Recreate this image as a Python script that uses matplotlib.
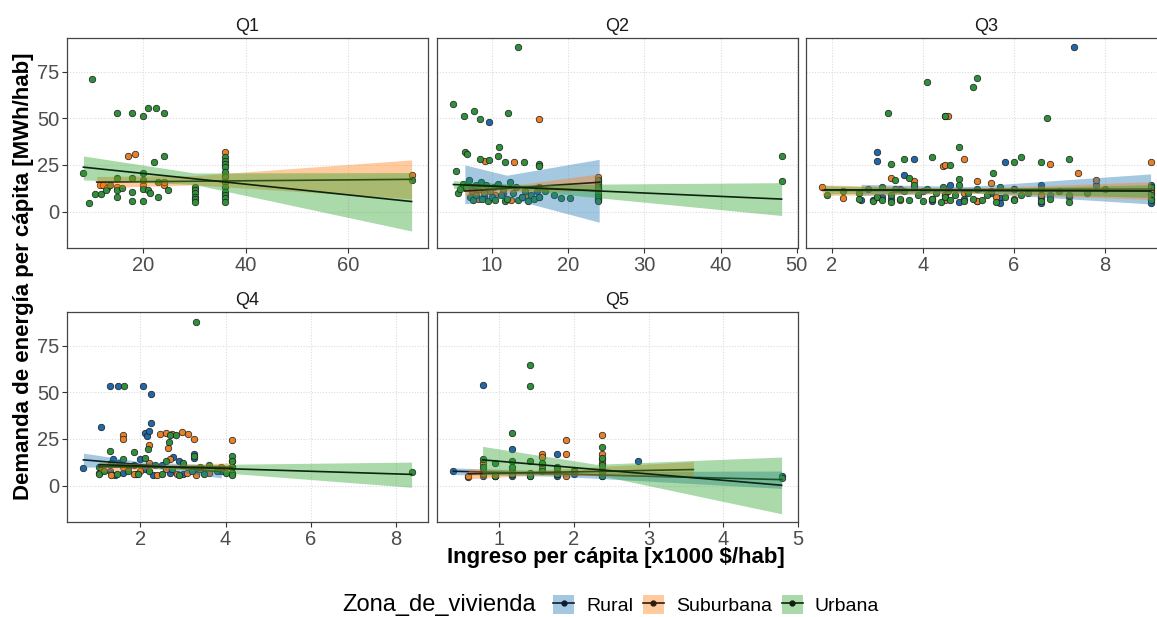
import matplotlib.pyplot as plt
import numpy as np
from matplotlib.lines import Line2D
from matplotlib.patches import Patch

plt.rcParams['font.family'] = ['Liberation Sans', 'DejaVu Sans']

zonas = ['Rural', 'Suburbana', 'Urbana']
panel_names = ['Q1', 'Q2', 'Q3', 'Q4', 'Q5']

# ---------------- puntos (x = ingreso, y = demanda) ----------------
# Q1
q1_sub_x = [11.6, 12.2, 13.0, 14.8, 17.0, 18.4, 19.9, 24.0, 24.0, 36.0, 36.0, 72.4]
q1_sub_y = [14.3, 14.3, 12.5, 13.4, 30.0, 31.1, 14.3, 14.3, 16.0, 32.1, 19.3, 19.6]
q1_urb_x = [8.3, 9.4, 9.9, 10.6, 11.8, 12.7, 13.5, 14.8, 14.8, 14.8, 14.8, 15.9, 17.8, 17.8, 17.8, 17.8,
            19.9, 19.9, 19.9, 19.9, 19.9, 20.9, 20.9, 21.4, 22.0, 22.5, 22.8, 22.9, 24.0, 24.0, 24.8,
            30, 30, 30, 30, 30, 30, 36, 36, 36, 36, 36, 36, 36, 36, 36, 36, 36, 36, 72.4]
q1_urb_y = [20.9, 4.6, 70.9, 9.6, 9.6, 11.6, 14.0, 53.0, 17.9, 11.6, 8.0, 12.5, 53.0, 17.9, 10.4, 5.5,
            51.2, 20.9, 17.0, 12.0, 5.5, 55.4, 11.6, 9.8, 26.4, 55.4, 7.7, 16.0, 53.0, 30.0, 11.6,
            13.4, 11.6, 9.8, 8.0, 6.6, 5.4, 29.5, 27.3, 25.5, 23.8, 21.4, 18.8, 16.1, 13.4, 10.7, 8.9, 7.1, 5.0, 17.0]

# Q2
q2_rur_x = [9.7, 7.5, 9.0, 11.5, 14.0, 16.0, 24.0, 24.0, 24.0]
q2_rur_y = [48.2, 12.0, 8.0, 10.0, 8.0, 11.0, 6.0, 14.0, 9.0]
q2_sub_x = [9.1, 13.0, 16.2, 8.2, 10.5, 12.5, 14.5, 16.2, 24, 24, 24, 24]
q2_sub_y = [27.3, 26.4, 49.5, 7.0, 9.0, 6.0, 9.0, 8.0, 18.8, 16.5, 12.5, 7.5]
q2_urb_x = [5.0, 5.4, 6.4, 6.5, 6.8, 7.7, 8.5, 8.5, 9.7, 10.9, 11.0, 11.7, 12.2, 13.4, 14.2, 16.2, 16.2,
            5.6, 5.8, 6.2, 6.6, 7.0, 7.2, 7.4, 7.6, 7.9, 8.0, 8.3, 8.6, 8.8, 9.0, 9.3, 9.5, 9.8, 10.0,
            10.3, 10.5, 10.8, 11.2, 11.5, 11.8, 12.0, 12.4, 12.8, 13.2, 13.5, 14.0, 14.4, 14.8, 15.2,
            15.5, 16.2, 16.2, 17.0, 18.2, 19.1, 20.3,
            24, 24, 24, 24, 24, 24, 24, 24, 48, 48]
q2_urb_y = [57.7, 21.8, 51.3, 32.1, 30.9, 54.1, 49.5, 28.2, 27.7, 29.8, 34.5, 26.4, 53.0, 88.4, 26.4, 25.5, 24.5,
            10, 12, 15, 13, 17, 8, 11, 6, 14, 9, 12, 16, 7, 10, 14, 5.5, 11, 8,
            13, 6, 15, 9, 12, 5.5, 7, 16, 10, 13, 6, 8, 11, 5.5, 9,
            7, 13, 8, 11, 8.9, 7.1, 7.1,
            17, 15, 13, 12, 10, 8, 6.5, 5.5, 30.0, 16.6]

# Q3
q3_rur_x = [7.33, 3.0, 3.0, 3.8, 5.8, 3.6, 3.8, 6.6, 6.6, 6.6,
            2.65, 2.9, 3.1, 3.3, 3.5, 4.0, 4.2, 4.5, 4.6, 4.8, 4.9, 5.2, 5.5, 5.7, 5.7, 6.0, 6.8, 7.8,
            9.0, 9.0, 9.0, 9.0]
q3_rur_y = [88.4, 32.1, 27.1, 28.2, 26.4, 19.6, 13.4, 14.3, 7.1, 4.5,
            6.3, 6.3, 8.0, 7.0, 12.0, 11.0, 5.5, 9.0, 14.0, 5.4, 7.0, 5.5, 10.0, 7.1, 4.5, 12.0, 9.0, 14.0,
            14.3, 11.0, 7.0, 4.5]
q3_sub_x = [1.8, 2.25, 3.3, 3.8, 4.45, 4.5, 4.5, 4.55, 4.9, 5.2, 5.5, 6.8, 7.4, 7.8, 9.0,
            3.0, 3.5, 4.2, 4.5, 4.5, 4.9, 5.2, 5.6, 6.0, 6.6, 7.2, 9.0, 9.0]
q3_sub_y = [13.4, 7.1, 17.9, 16.6, 24.6, 25.0, 51.3, 51.3, 28.2, 16.6, 15.5, 25.5, 20.9, 17.0, 26.4,
            8.0, 6.0, 6.5, 9.0, 6.0, 10.0, 5.5, 8.0, 7.0, 9.0, 8.0, 12.0, 10.0]
q3_urb_x = [4.09, 5.2, 5.1, 3.24, 4.5, 6.73, 4.8, 3.3, 3.6, 4.2, 4.6, 6.0, 6.15, 6.6, 7.2, 5.54, 3.4, 3.7, 4.8,
            1.9, 2.25, 2.6, 2.6, 2.8, 2.9, 3.0, 3.1, 3.1, 3.3, 3.3, 3.4, 3.5, 3.6, 3.7, 3.8, 3.9, 4.0,
            4.1, 4.2, 4.3, 4.4, 4.45, 4.5, 4.55, 4.6, 4.7, 4.8, 4.9, 5.0, 5.1, 5.2, 5.3, 5.4, 5.5, 5.6,
            5.7, 5.8, 6.0, 6.0, 6.15, 6.3, 6.6, 6.6, 6.8, 7.0, 7.2, 7.2, 7.6, 8.0, 9.0, 9.0, 9.0]
q3_urb_y = [69.6, 71.8, 66.6, 53.0, 51.3, 50.0, 34.5, 25.5, 28.2, 29.5, 25.0, 26.4, 29.5, 26.4, 28.2, 20.9, 17.0, 17.9, 17.5,
            9, 11, 7, 10, 12, 5.5, 8, 6, 13, 9, 5, 12, 7, 11, 6, 14, 9, 5.5,
            12, 7, 10, 5, 13, 8, 11, 6, 9, 14, 5.5, 10, 7, 12, 6, 9, 11, 5,
            13, 8, 12, 6, 9, 10, 5.5, 12, 7, 11, 5, 9, 10, 12, 13, 9, 6]

# Q4
q4_rur_x = [0.66, 1.07, 1.28, 1.47, 2.06, 2.25, 2.25, 2.1, 2.15, 2.2, 1.36, 2.76, 3.25,
            1.28, 1.4, 1.5, 1.6, 1.7, 1.9, 2.0, 2.1, 2.3, 2.5, 2.7, 2.9, 3.0, 3.25, 3.25, 3.5, 3.9, 4.16]
q4_rur_y = [9.3, 31.4, 53.3, 53.3, 53.3, 49.0, 33.6, 28.0, 26.5, 29.0, 14.4, 15.3, 17.0,
            8, 5.5, 12, 7, 10, 6, 14, 9, 5.5, 11, 7, 13, 6, 15, 9, 7, 8, 10]
q4_sub_x = [1.6, 1.6, 2.47, 2.59, 2.74, 2.98, 3.12, 3.25, 4.16, 2.65, 2.2,
            1.03, 1.3, 1.6, 1.85, 2.0, 2.2, 2.4, 2.6, 2.7, 2.85, 3.0, 3.1, 3.3, 3.4, 3.6, 3.9, 4.16, 4.16]
q4_sub_y = [27.0, 25.0, 27.5, 28.4, 27.5, 28.8, 27.5, 25.0, 24.6, 20.0, 22.0,
            7, 5.5, 10, 6, 8, 12, 5.5, 9, 14, 6, 11, 7, 5.5, 9, 7, 10, 13, 6]
q4_urb_x = [3.31, 1.61, 1.28, 1.86, 2.17, 2.66, 2.7, 2.84,
            1.03, 1.03, 1.15, 1.3, 1.45, 1.6, 1.7, 1.85, 1.95, 2.1, 2.2, 2.35, 2.5, 2.6, 2.75, 2.9, 3.0,
            3.2, 3.25, 3.4, 3.5, 3.6, 3.8, 4.0, 4.16, 4.16, 4.16, 4.16, 4.16, 8.37]
q4_urb_y = [87.6, 53.3, 18.3, 18.0, 19.7, 23.3, 27.0, 27.0,
            10, 6, 8, 12, 6, 14, 8, 11, 6, 15, 8, 11, 6, 13, 9, 5.5, 12,
            8, 16, 10, 6, 11, 8, 7, 16, 13, 10, 7, 5.5, 7.5]

# Q5
q5_rur_x = [0.78, 0.39, 0.59, 1.18, 1.78, 2.86, 4.78,
            0.78, 0.78, 0.95, 1.18, 1.18, 1.42, 1.58, 1.78, 1.78, 2.0, 2.38, 2.38]
q5_rur_y = [53.8, 7.7, 4.8, 19.7, 16.7, 13.3, 5.2,
            5, 8, 5, 8, 5, 6, 9, 5, 8, 6, 5, 9]
q5_sub_x = [1.9, 2.38, 2.38, 2.38, 1.9, 1.58, 1.58,
            0.59, 0.78, 0.78, 0.95, 1.18, 1.42, 1.58, 1.78, 1.9, 2.0, 2.38, 2.38]
q5_sub_y = [24.6, 26.9, 16.7, 14.4, 16.7, 16.7, 15.3,
            5, 12, 7, 5, 6, 5, 11, 6, 5, 8, 12, 7]
q5_urb_x = [1.42, 1.42, 1.18, 2.38, 0.95,
            0.78, 0.78, 0.78, 0.95, 1.18, 1.18, 1.18, 1.42, 1.42, 1.42, 1.58, 1.58, 1.78, 1.78, 2.0,
            2.38, 2.38, 2.38, 2.38, 4.78]
q5_urb_y = [64.4, 53.3, 28.4, 20.6, 12.0,
            14, 10, 6, 5, 13, 10, 6, 13, 7, 5, 12, 8, 10, 6, 8,
            15, 11, 7, 5, 4.0]

# ---------------- ajustes lineales ----------------
# x: inicio, zona mas angosta, fin ; lo/hi: banda de confianza ; line: y al inicio y al fin
q1_fit_sub = dict(x=[10.9, 30.0, 72.4], lo=[12.8, 14.3, 6.9], hi=[18.8, 19.3, 27.7], line=[15.8, 17.3])
q1_fit_urb = dict(x=[8.3, 30.0, 72.4], lo=[17.0, 14.5, -10.4], hi=[29.8, 20.7, 20.9], line=[23.8, 5.4])

q2_fit_rur = dict(x=[6.5, 12.0, 24.1], lo=[4.1, 7.5, -5.7], hi=[25.0, 19.5, 28.0], line=[14.5, 11.2])
q2_fit_sub = dict(x=[6.5, 13.0, 24.1], lo=[8.3, 10.6, 11.2], hi=[13.7, 14.2, 20.2], line=[11.0, 15.7])
q2_fit_urb = dict(x=[5.0, 14.0, 48.0], lo=[12.5, 11.4, -2.1], hi=[16.6, 14.4, 15.5], line=[14.5, 6.7])

q3_fit_rur = dict(x=[2.65, 5.0, 9.0], lo=[8.6, 10.2, 4.1], hi=[14.6, 13.4, 20.2], line=[11.6, 12.1])
q3_fit_sub = dict(x=[1.8, 5.0, 9.0], lo=[8.6, 9.9, 6.5], hi=[14.3, 12.5, 16.0], line=[11.4, 11.2])
q3_fit_urb = dict(x=[1.85, 5.0, 9.0], lo=[9.5, 10.2, 7.6], hi=[13.9, 12.2, 14.4], line=[11.7, 11.0])

q4_fit_rur = dict(x=[0.66, 2.0, 3.9], lo=[9.9, 10.2, 4.1], hi=[17.4, 12.8, 10.8], line=[13.8, 7.5])
q4_fit_sub = dict(x=[1.03, 2.5, 4.16], lo=[7.6, 9.2, 7.4], hi=[12.6, 11.2, 12.2], line=[10.1, 9.8])
q4_fit_urb = dict(x=[1.03, 2.5, 8.37], lo=[9.9, 9.4, -0.9], hi=[12.6, 11.0, 12.6], line=[11.2, 6.0])

q5_fit_rur = dict(x=[0.39, 1.8, 4.78], lo=[5.9, 5.0, -1.5], hi=[9.5, 7.5, 7.8], line=[7.7, 3.2])
q5_fit_sub = dict(x=[0.59, 1.5, 3.6], lo=[3.6, 5.7, 4.8], hi=[9.0, 8.3, 12.9], line=[6.3, 8.6])
q5_fit_urb = dict(x=[0.78, 2.3, 4.78], lo=[5.9, 5.9, -15.1], hi=[21.0, 11.4, 15.3], line=[13.8, 0.2])

q_xticks = [[20, 40, 60], [10, 20, 30, 40, 50], [2, 4, 6, 8], [2, 4, 6, 8], [1, 2, 3, 4, 5]]
y_ticks = [0, 25, 50, 75]

panels = [
    {'Suburbana': (q1_sub_x, q1_sub_y, q1_fit_sub), 'Urbana': (q1_urb_x, q1_urb_y, q1_fit_urb)},
    {'Rural': (q2_rur_x, q2_rur_y, q2_fit_rur), 'Suburbana': (q2_sub_x, q2_sub_y, q2_fit_sub),
     'Urbana': (q2_urb_x, q2_urb_y, q2_fit_urb)},
    {'Rural': (q3_rur_x, q3_rur_y, q3_fit_rur), 'Suburbana': (q3_sub_x, q3_sub_y, q3_fit_sub),
     'Urbana': (q3_urb_x, q3_urb_y, q3_fit_urb)},
    {'Rural': (q4_rur_x, q4_rur_y, q4_fit_rur), 'Suburbana': (q4_sub_x, q4_sub_y, q4_fit_sub),
     'Urbana': (q4_urb_x, q4_urb_y, q4_fit_urb)},
    {'Rural': (q5_rur_x, q5_rur_y, q5_fit_rur), 'Suburbana': (q5_sub_x, q5_sub_y, q5_fit_sub),
     'Urbana': (q5_urb_x, q5_urb_y, q5_fit_urb)},
]

fill_col = {'Rural': '#1f77b4', 'Suburbana': '#ff7f0e', 'Urbana': '#2ca02c'}
point_col = {'Rural': '#2368a6', 'Suburbana': '#e8802a', 'Urbana': '#2f8f3a'}
line_col = {'Rural': '#0e1e30', 'Suburbana': '#2e1c0c', 'Urbana': '#0c240e'}

# ---------------- figura ----------------
W, H = 1157, 617
fig = plt.figure(figsize=(W / 100, H / 100), dpi=100)

# cajas de paneles en pixeles (izq, arriba, der, abajo)
boxes = [(67, 38, 428, 248), (437, 38, 798, 248), (806, 38, 1167, 248),
         (67, 312, 428, 522), (437, 312, 798, 522)]

for i, (name, data) in enumerate(zip(panel_names, panels)):
    l, t, r, b = boxes[i]
    ax = fig.add_axes([l / W, 1 - b / H, (r - l) / W, (b - t) / H])

    allx = []
    for z in zonas:
        if z not in data:
            continue
        x, y, fit = data[z]
        allx += list(x) + list(fit['x'])
        ax.scatter(x, y, s=22, color=point_col[z], edgecolor='#1a1a1a', linewidth=0.5, zorder=2)

    k = 3
    for z in zonas:
        if z not in data:
            continue
        fit = data[z][2]
        ax.fill_between(fit['x'], fit['lo'], fit['hi'], color=fill_col[z], alpha=0.4, linewidth=0, zorder=k)
        ax.plot([fit['x'][0], fit['x'][-1]], fit['line'], color=line_col[z], lw=1.2, zorder=k + 1)
        k += 2

    xmin, xmax = min(allx), max(allx)
    pad = 0.05 * (xmax - xmin)
    ax.set_xlim(xmin - pad, xmax + pad)
    ax.set_ylim(-19.5, 93)
    ax.set_xticks(q_xticks[i])
    ax.set_yticks(y_ticks)
    ax.grid(True, color='#dcdcdc', linestyle=(0, (1, 1.5)), linewidth=0.8, zorder=0)
    ax.set_axisbelow(True)
    for sp in ax.spines.values():
        sp.set_color('#444444')
        sp.set_linewidth(0.9)
    ax.tick_params(axis='both', length=3.5, width=0.8, color='#333333',
                   labelsize=14.5, labelcolor='#4d4d4d', pad=2)
    if i not in (0, 3):
        ax.tick_params(axis='y', length=0, labelleft=False)
    ax.set_title(name, fontsize=13, color='#1a1a1a', pad=5)

fig.text(24 / W, 1 - 276 / H, 'Demanda de energía per cápita [MWh/hab]', rotation=90,
         ha='center', va='center', fontsize=16, fontweight='bold')
fig.text(616 / W, 1 - 557 / H, 'Ingreso per cápita [x1000 $/hab]',
         ha='center', va='center', fontsize=16, fontweight='bold')

# leyenda
fig.text(342 / W, 1 - 605 / H, 'Zona_de_vivienda', ha='left', va='center', fontsize=17)
handles = []
for z in zonas:
    patch = Patch(facecolor=fill_col[z], alpha=0.4, edgecolor='none')
    ln = Line2D([], [], color=line_col[z], lw=1.2, marker='o', markersize=3.5,
                markerfacecolor=line_col[z], markeredgecolor=line_col[z])
    handles.append((patch, ln))
fig.legend(handles, zonas, loc='center left', bbox_to_anchor=(553 / W, 1 - 605 / H), ncol=3,
           frameon=False, fontsize=14, handlelength=1.1, handleheight=1.1,
           handletextpad=0.6, columnspacing=0.5, borderpad=0, borderaxespad=0)

fig.savefig('out.png', dpi=100)
